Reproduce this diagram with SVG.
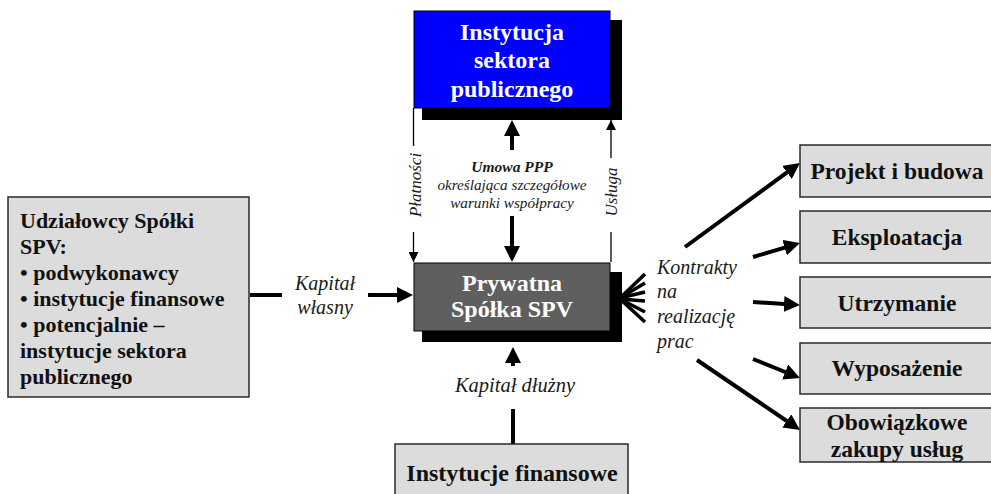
<svg xmlns="http://www.w3.org/2000/svg" width="991" height="494" viewBox="0 0 991 494">
<style>
.box{fill:#dcdcdc;stroke:#2a2a2a;stroke-width:1.5}
.shadow{fill:#000}
.bt{font-family:"Liberation Serif","Times New Roman",serif;font-weight:bold;fill:#111}
.wt{font-family:"Liberation Serif","Times New Roman",serif;font-weight:bold;fill:#fff;font-size:24px;text-anchor:middle}
.it{font-family:"Liberation Serif","Times New Roman",serif;font-style:italic;fill:#1a1a1a}
.thick{stroke:#000;stroke-width:4;fill:none}
.thin{stroke:#000;stroke-width:1.3;fill:none}
.rb{font-size:23.5px;text-anchor:middle}
</style>
<defs>
<marker id="ah" markerUnits="userSpaceOnUse" markerWidth="16" markerHeight="16" viewBox="0 0 16 16" refX="8" refY="8" orient="auto"><path d="M0,0 L16,8 L0,16 z" fill="#000"/></marker>
<marker id="at" markerUnits="userSpaceOnUse" markerWidth="10" markerHeight="10" viewBox="0 0 10 10" refX="10" refY="5" orient="auto"><path d="M0,0 L10,5 L0,10 z" fill="#000"/></marker>
</defs>

<g id="connectors">
  <line class="thin" x1="413.5" y1="108" x2="413.5" y2="146"/>
  <line class="thin" x1="413.5" y1="232" x2="413.5" y2="262" marker-end="url(#at)"/>
  <line class="thin" x1="611" y1="262" x2="611" y2="232"/>
  <line class="thin" x1="611" y1="158" x2="611" y2="120" marker-end="url(#at)"/>
  <line class="thick" x1="512" y1="150" x2="512" y2="128" marker-end="url(#ah)"/>
  <line class="thick" x1="512" y1="216" x2="512" y2="254" marker-end="url(#ah)"/>
  <line class="thick" x1="250" y1="295" x2="282" y2="295"/>
  <line class="thick" x1="368" y1="295" x2="405" y2="295" marker-end="url(#ah)"/>
  <line class="thick" x1="513" y1="409" x2="513" y2="444"/>
  <line class="thick" x1="513" y1="366" x2="513" y2="355" marker-end="url(#ah)"/>
  <g stroke="#000" stroke-width="3.5">
    <line x1="620" y1="298" x2="645" y2="274"/>
    <line x1="620" y1="298" x2="645" y2="283"/>
    <line x1="620" y1="298" x2="645" y2="292"/>
    <line x1="620" y1="299" x2="645" y2="301"/>
    <line x1="620" y1="299" x2="645" y2="312"/>
    <line x1="620" y1="299" x2="645" y2="322"/>
  </g>
  <line class="thick" x1="685" y1="247" x2="793.5" y2="167.7" marker-end="url(#ah)"/>
  <line class="thick" x1="753" y1="257" x2="792.3" y2="245.3" marker-end="url(#ah)"/>
  <line class="thick" x1="753" y1="302" x2="792" y2="304.5" marker-end="url(#ah)"/>
  <line class="thick" x1="753" y1="359" x2="792.6" y2="375" marker-end="url(#ah)"/>
  <line class="thick" x1="697" y1="360" x2="793.4" y2="425.5" marker-end="url(#ah)"/>
</g>

<g id="labels">
  <text class="it" font-size="17" transform="translate(421,185) rotate(-90)" text-anchor="middle">Płatności</text>
  <text class="it" font-size="17" transform="translate(617,192) rotate(-90)" text-anchor="middle">Usługa</text>
  <text class="it" font-size="15.5" x="512" y="172" text-anchor="middle" font-weight="bold">Umowa PPP</text>
  <text class="it" font-size="15.2" x="512" y="190" text-anchor="middle">określająca szczegółowe</text>
  <text class="it" font-size="15.2" x="512" y="208" text-anchor="middle">warunki współpracy</text>
  <text class="it" font-size="20" x="325" y="290" text-anchor="middle">Kapitał</text>
  <text class="it" font-size="20" x="325" y="314" text-anchor="middle">własny</text>
  <text class="it" font-size="20.5" x="515" y="392" text-anchor="middle">Kapitał dłużny</text>
  <text class="it" font-size="20" x="657" y="274">Kontrakty</text>
  <text class="it" font-size="20" x="657" y="298">na</text>
  <text class="it" font-size="20" x="657" y="323">realizację</text>
  <text class="it" font-size="20" x="657" y="348">prac</text>
</g>

<g id="public">
  <rect class="shadow" x="422" y="20" width="200" height="100"/>
  <rect x="414" y="11" width="196" height="97" fill="#0000ff" stroke="#000" stroke-width="1"/>
  <text class="wt" x="512" y="40">Instytucja</text>
  <text class="wt" x="512" y="68">sektora</text>
  <text class="wt" x="512" y="97">publicznego</text>
</g>

<g id="spv">
  <rect class="shadow" x="422" y="272" width="200" height="70"/>
  <rect x="414" y="263" width="196" height="68" fill="#5f5f5f" stroke="#000" stroke-width="1"/>
  <text class="wt" x="512" y="291">Prywatna</text>
  <text class="wt" x="512" y="317">Spółka SPV</text>
</g>

<g id="shareholders">
  <rect class="box" x="8" y="197" width="241" height="200"/>
  <g class="bt" font-size="22">
    <text x="20" y="228">Udziałowcy Spółki</text>
    <text x="20" y="254">SPV:</text>
    <text x="20" y="280">• podwykonawcy</text>
    <text x="20" y="306">• instytucje finansowe</text>
    <text x="20" y="332">• potencjalnie –</text>
    <text x="20" y="358">instytucje sektora</text>
    <text x="20" y="384">publicznego</text>
  </g>
</g>

<g id="finance">
  <rect class="box" x="395" y="444" width="233" height="60"/>
  <text class="bt" font-size="24" x="512" y="481" text-anchor="middle">Instytucje finansowe</text>
</g>

<g id="projekt">
  <rect class="box" x="800" y="145" width="200" height="52"/>
  <text class="bt rb" x="897" y="179">Projekt i budowa</text>
</g>
<g id="eksploatacja">
  <rect class="box" x="800" y="211" width="200" height="52"/>
  <text class="bt rb" x="897" y="245">Eksploatacja</text>
</g>
<g id="utrzymanie">
  <rect class="box" x="800" y="277" width="200" height="51"/>
  <text class="bt rb" x="897" y="311">Utrzymanie</text>
</g>
<g id="wyposazenie">
  <rect class="box" x="800" y="343" width="200" height="51"/>
  <text class="bt rb" x="897" y="376">Wyposażenie</text>
</g>
<g id="zakupy">
  <rect class="box" x="800" y="408" width="200" height="54"/>
  <text class="bt rb" x="897" y="430">Obowiązkowe</text>
  <text class="bt rb" x="897" y="457">zakupy usług</text>
</g>
</svg>
